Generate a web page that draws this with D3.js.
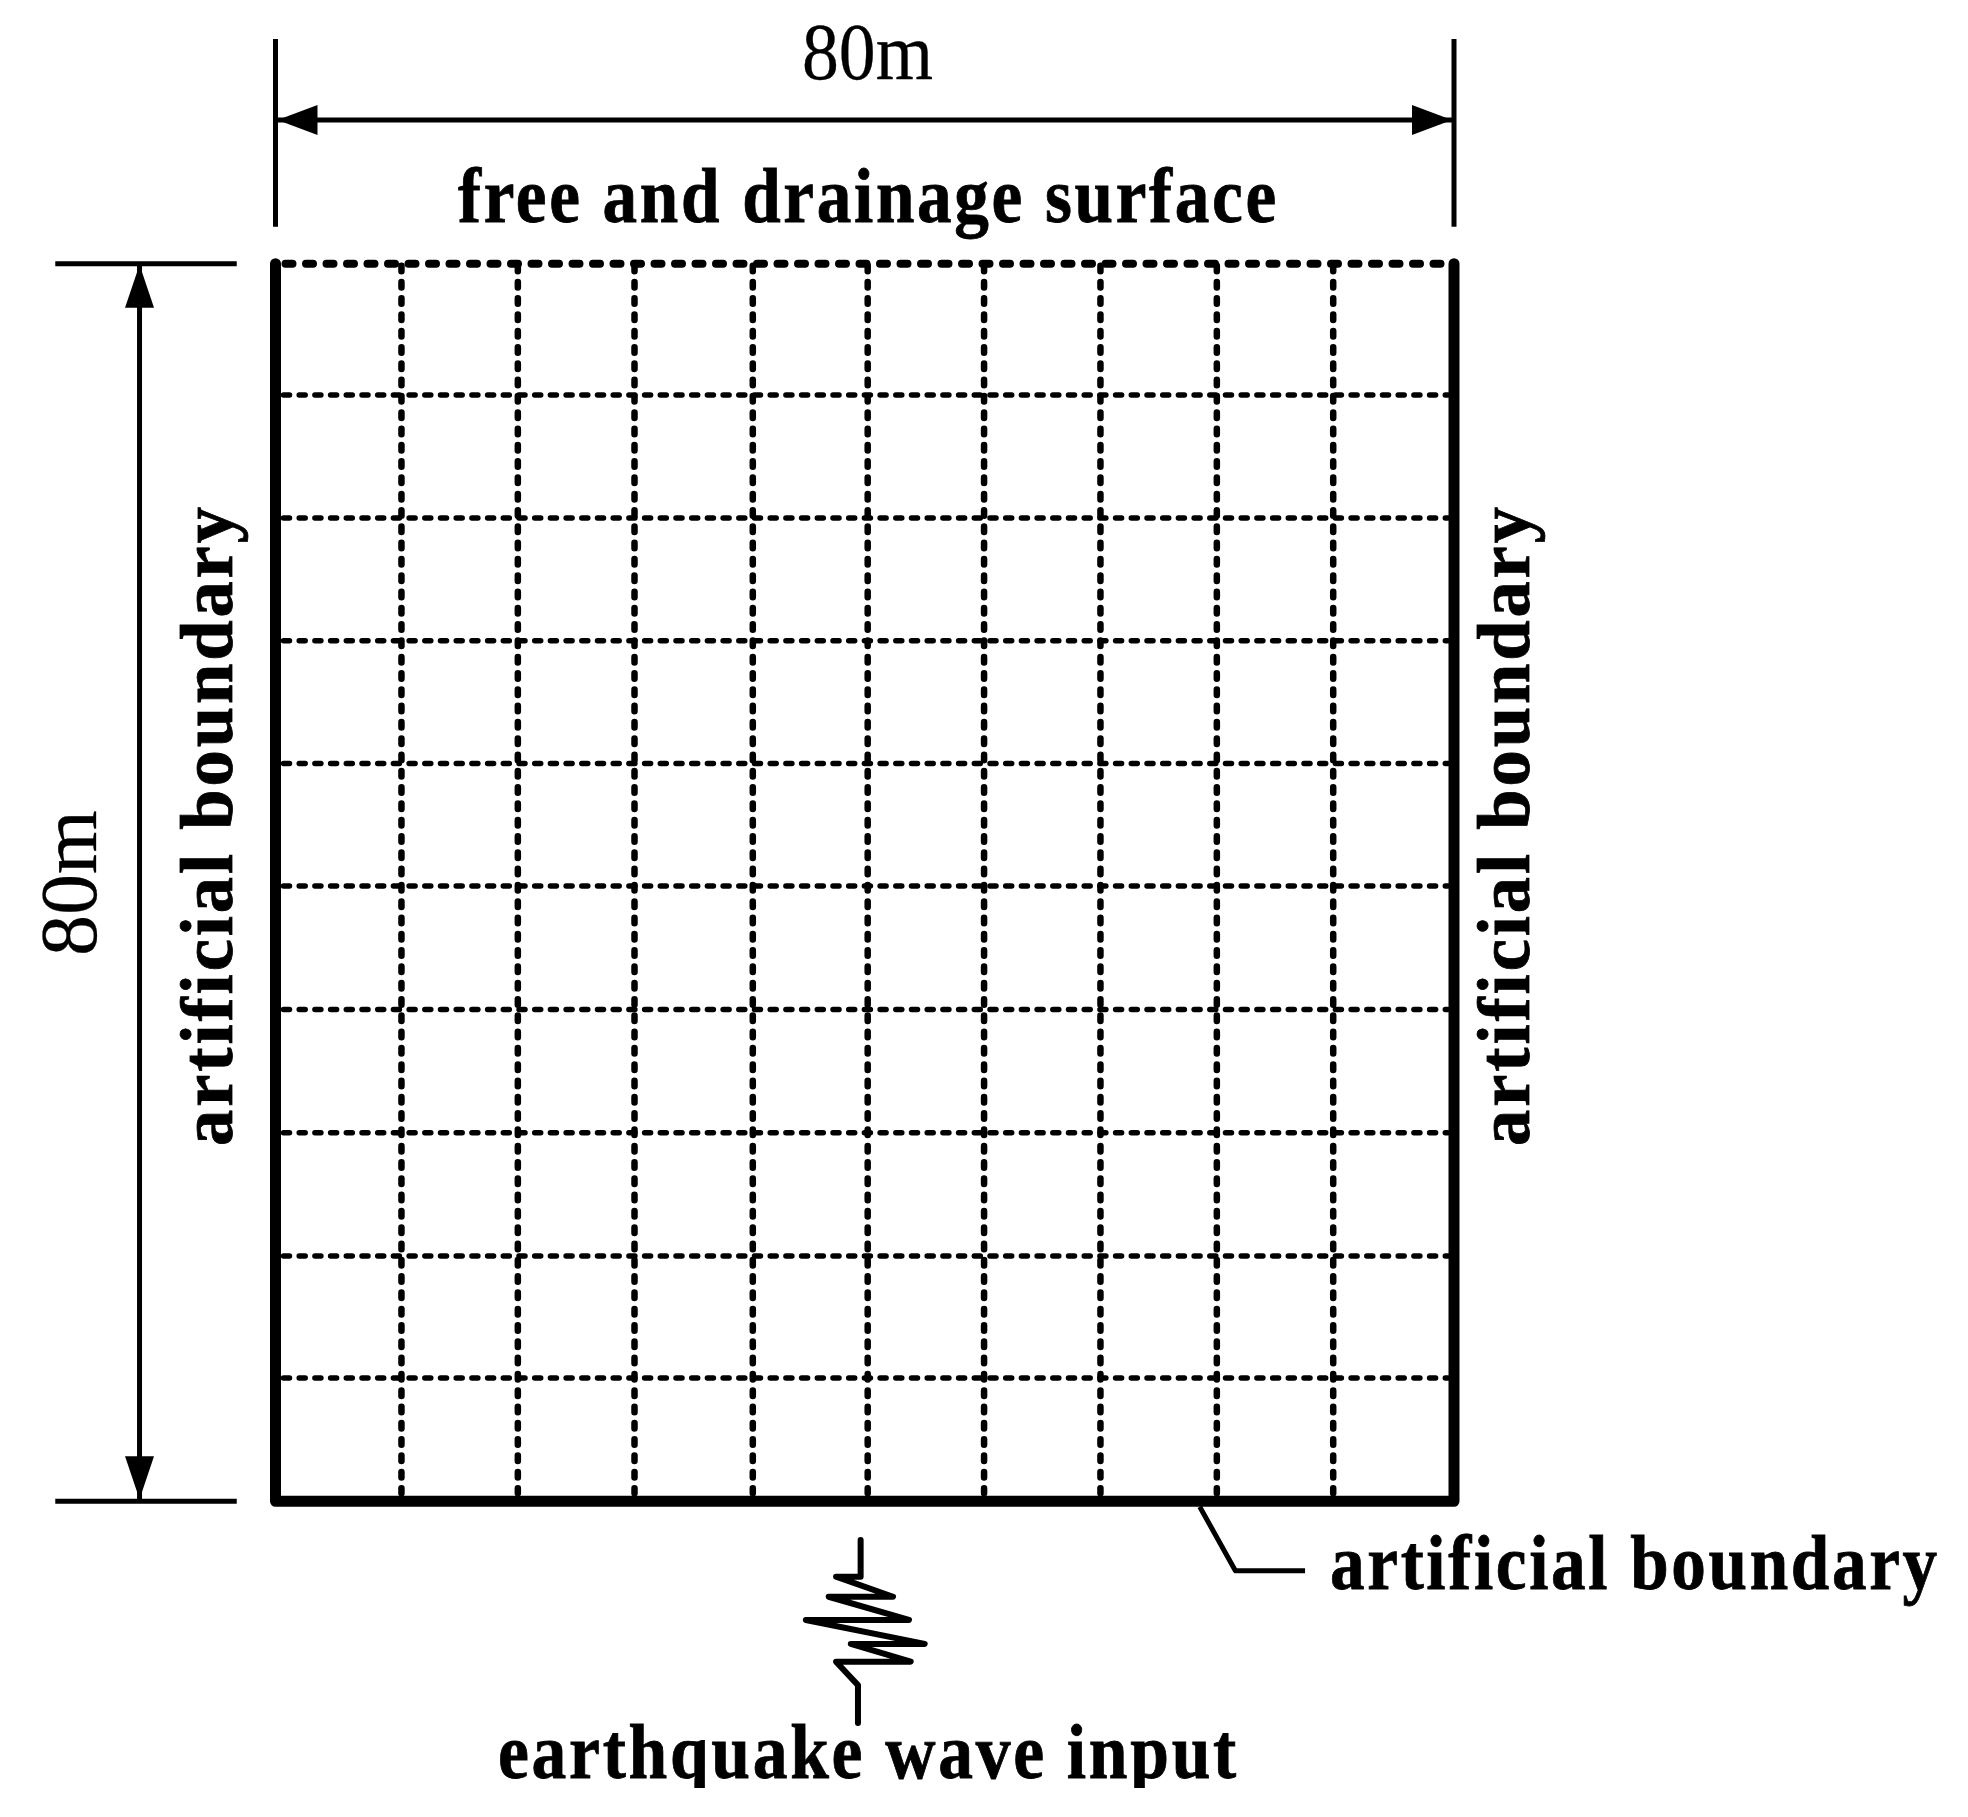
<!DOCTYPE html>
<html>
<head>
<meta charset="utf-8">
<script src="https://cdn.jsdelivr.net/npm/d3@7"></script>
<style>
	body { margin: 0; background: #fff; }
	svg { display: block; }
	text { font-family: "Liberation Serif", serif; fill: #000; }
</style>
</head>
<body>
<div class="canvas"></div>
<script>
// model size and mesh lines, in metres
const modelWidth = 80;
const modelDepth = 80;
const meshX = [8.55, 16.45, 24.37, 32.4, 40.2, 48.1, 56.0, 63.9, 71.8];
const meshY = [8.49, 16.44, 24.37, 32.31, 40.23, 48.21, 56.17, 64.14, 72.03];

// earthquake wave symbol below the model, in metres
const waveX = [39.72, 39.72, 38.05, 41.92, 37.55, 43.0, 36.0, 44.07, 39.05, 43.12, 38.05, 39.54, 39.54];
const waveY = [82.5, 84.87, 84.87, 86.17, 86.17, 87.67, 87.67, 89.22, 89.22, 90.37, 90.37, 91.88, 94.33];

// leader line of the bottom boundary label, in metres
const leaderX = [62.74, 65.16, 69.89];
const leaderY = [80.35, 84.49, 84.49];

// dimension lines, in metres outside the model
const dimTop = -9.29;
const dimLeft = -9.23;
const extTop = [-14.52, -2.39];
const extLeft = [-14.95, -2.63];

const sizeLabel = '80m';
const surfaceLabel = 'free and drainage surface';
const boundaryLabel = 'artificial boundary';
const inputLabel = 'earthquake wave input';

const svg = d3.select('.canvas').append('svg')
	.attr('width', 1968)
	.attr('height', 1817);

const x = d3.scaleLinear().domain([0, modelWidth]).range([275.5, 1454]);
const y = d3.scaleLinear().domain([0, modelDepth]).range([263.7, 1501.3]);

const line = d3.line().x(d => x(d[0])).y(d => y(d[1]));

// mesh
svg.selectAll('.row')
	.data(meshY)
	.enter().append('line')
	.attr('class', 'row')
	.attr('x1', x(0) + 8)
	.attr('x2', x(modelWidth) - 6)
	.attr('y1', d => y(d))
	.attr('y2', d => y(d))
	.attr('stroke', '#000')
	.attr('stroke-width', 5.5)
	.attr('stroke-linecap', 'round')
	.attr('stroke-dasharray', '6 9.7');

svg.selectAll('.col')
	.data(meshX)
	.enter().append('line')
	.attr('class', 'col')
	.attr('x1', d => x(d))
	.attr('x2', d => x(d))
	.attr('y1', y(0) + 2)
	.attr('y2', y(modelDepth) - 8)
	.attr('stroke', '#000')
	.attr('stroke-width', 6.5)
	.attr('stroke-linecap', 'round')
	.attr('stroke-dasharray', '5.5 10.8');

// free surface
svg.append('line')
	.attr('x1', x(0) + 10)
	.attr('x2', x(modelWidth) - 6)
	.attr('y1', y(0))
	.attr('y2', y(0))
	.attr('stroke', '#000')
	.attr('stroke-width', 8)
	.attr('stroke-linecap', 'round')
	.attr('stroke-dasharray', '7 13.5');

// artificial boundary
svg.append('path')
	.attr('d', line([[0, 0], [0, modelDepth], [modelWidth, modelDepth], [modelWidth, 0]]))
	.attr('fill', 'none')
	.attr('stroke', '#000')
	.attr('stroke-width', 11)
	.attr('stroke-linecap', 'round')
	.attr('stroke-linejoin', 'round');

// thin strokes: dimension lines and leader
const thin = [
	[[0, extTop[0]], [0, extTop[1]]],
	[[modelWidth, extTop[0]], [modelWidth, extTop[1]]],
	[[0, dimTop], [modelWidth, dimTop]],
	[[extLeft[0], 0], [extLeft[1], 0]],
	[[extLeft[0], modelDepth], [extLeft[1], modelDepth]],
	[[dimLeft, 0], [dimLeft, modelDepth]],
	d3.zip(leaderX, leaderY)
];

svg.selectAll('.thin')
	.data(thin)
	.enter().append('path')
	.attr('class', 'thin')
	.attr('d', line)
	.attr('fill', 'none')
	.attr('stroke', '#000')
	.attr('stroke-width', 5)
	.attr('stroke-linejoin', 'round');

svg.append('path')
	.attr('d', line(d3.zip(waveX, waveY)))
	.attr('fill', 'none')
	.attr('stroke', '#000')
	.attr('stroke-width', 6)
	.attr('stroke-linecap', 'round')
	.attr('stroke-linejoin', 'round');

// arrow heads: tip point, direction, length, half width
const heads = [
	{tx: x(0) + 2, ty: y(dimTop), dx: 1, dy: 0, len: 40, half: 15},
	{tx: x(modelWidth) - 2, ty: y(dimTop), dx: -1, dy: 0, len: 40, half: 15},
	{tx: x(dimLeft), ty: y(0) + 1, dx: 0, dy: 1, len: 43, half: 14.5},
	{tx: x(dimLeft), ty: y(modelDepth) - 2, dx: 0, dy: -1, len: 43, half: 14.5}
];

svg.selectAll('.head')
	.data(heads)
	.enter().append('polygon')
	.attr('class', 'head')
	.attr('points', d => {
		const bx = d.tx + d.dx * d.len;
		const by = d.ty + d.dy * d.len;
		return [[d.tx, d.ty], [bx + d.dy * d.half, by + d.dx * d.half], [bx - d.dy * d.half, by - d.dx * d.half]].join(' ');
	})
	.attr('fill', '#000');

// labels, squeezed to the measured length like the original
function label(str, px, py, size, length, weight, angle) {
	const bold = weight === 'bold';
	const text = svg.append('text')
		.attr('font-size', size)
		.attr('font-weight', weight)
		.attr('letter-spacing', bold ? 3 : 0)
		.attr('stroke', '#000')
		.attr('stroke-width', bold ? 0.8 : 0.3)
		.text(str);
	const sx = length / text.node().getComputedTextLength();
	text.attr('transform', `translate(${px}, ${py}) rotate(${angle || 0}) scale(${sx}, 1)`);
}

label(sizeLabel, 802, 79.3, 80, 131, 'normal');
label(sizeLabel, 96, 956, 80, 146, 'normal', -90);
label(surfaceLabel, 458, 222.3, 78, 821, 'bold');
label(boundaryLabel, 232.3, 1146, 74, 642, 'bold', -90);
label(boundaryLabel, 1529.3, 1146, 74, 642, 'bold', -90);
label(boundaryLabel, 1330, 1589, 78, 610, 'bold');
label(inputLabel, 498, 1778, 78, 741, 'bold');

// the original is cut off just under the last label
svg.append('rect')
	.attr('x', 0)
	.attr('y', 1788)
	.attr('width', 1968)
	.attr('height', 29)
	.attr('fill', '#fff');
</script>
</body>
</html>
